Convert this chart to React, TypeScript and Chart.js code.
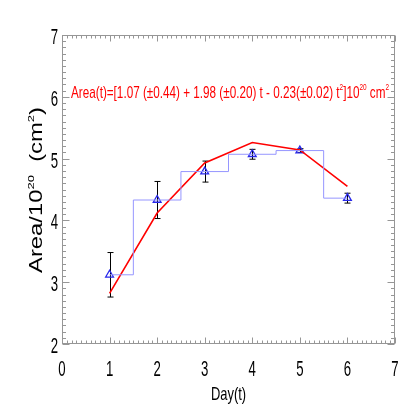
import React, { useEffect, useRef } from "react";
import { Chart, registerables } from "chart.js";
Chart.register(...registerables);

// ---- data ----
const days = [1, 2, 3, 4, 5, 6];
const areaObserved = [3.12, 4.33, 4.79, 5.07, 5.13, 4.36];
const areaError = [0.36, 0.3, 0.17, 0.08, 0.03, 0.08];
const areaFit = [2.82, 4.12, 4.93, 5.26, 5.14, 4.55];
const xTickValues = [0, 1, 2, 3, 4, 5, 6, 7];
const yTickValues = [2, 3, 4, 5, 6, 7];
const xTitle = "Day(t)";

type Part = { t: string; sup?: boolean };
const yTitleParts: Part[] = [
  { t: "Area/10" },
  { t: "20", sup: true },
  { t: "  (cm" },
  { t: "2", sup: true },
  { t: ")" },
];
const fitLabelParts: Part[] = [
  { t: "Area(t)=[1.07 (\u00b10.44) + 1.98 (\u00b10.20) t - 0.23(\u00b10.02) t" },
  { t: "2", sup: true },
  { t: "]10" },
  { t: "20", sup: true },
  { t: " cm" },
  { t: "2", sup: true },
];

const AXIS_GRAY = "#969696";
const FAMILY = '"Liberation Sans", Arial, sans-serif';

function partsWidth(ctx: CanvasRenderingContext2D, parts: Part[], size: number) {
  let w = 0;
  for (const p of parts) {
    ctx.font = `${p.sup ? size * 0.55 : size}px ${FAMILY}`;
    w += ctx.measureText(p.t).width;
  }
  return w;
}

function drawParts(
  ctx: CanvasRenderingContext2D,
  parts: Part[],
  size: number,
  color: string
) {
  let x = 0;
  ctx.fillStyle = color;
  ctx.textBaseline = "alphabetic";
  ctx.textAlign = "left";
  for (const p of parts) {
    const s = p.sup ? size * 0.55 : size;
    ctx.font = `${s}px ${FAMILY}`;
    ctx.fillText(p.t, x, p.sup ? -size * 0.45 : 0);
    x += ctx.measureText(p.t).width;
  }
}

const decorPlugin = {
  id: "decor",
  beforeDatasetsDraw(chart: any) {
    const ctx: CanvasRenderingContext2D = chart.ctx;
    const xs = chart.scales.x;
    const ys = chart.scales.y;
    ctx.save();
    ctx.strokeStyle = "#000";
    ctx.lineWidth = 1;
    days.forEach((d, i) => {
      const px = Math.round(xs.getPixelForValue(d)) + 0.5;
      const top = ys.getPixelForValue(areaObserved[i] + areaError[i]);
      const bot = ys.getPixelForValue(areaObserved[i] - areaError[i]);
      ctx.beginPath();
      ctx.moveTo(px, top);
      ctx.lineTo(px, bot);
      ctx.moveTo(px - 3, top);
      ctx.lineTo(px + 3, top);
      ctx.moveTo(px - 3, bot);
      ctx.lineTo(px + 3, bot);
      ctx.stroke();
    });
    ctx.restore();
  },
  afterDraw(chart: any) {
    const ctx: CanvasRenderingContext2D = chart.ctx;
    const xs = chart.scales.x;
    const ys = chart.scales.y;
    const a = chart.chartArea;
    const L = Math.round(a.left) + 0.5;
    const R = Math.round(a.right) - 0.5;
    const T = Math.round(a.top) + 0.5;
    const B = Math.round(a.bottom) - 0.5;
    ctx.save();
    // frame
    ctx.strokeStyle = AXIS_GRAY;
    ctx.lineWidth = 1;
    ctx.strokeRect(L, T, R - L, B - T);
    // ticks
    ctx.beginPath();
    const yMin = yTickValues[0];
    const yMax = yTickValues[yTickValues.length - 1];
    for (let k = 0; k <= (yMax - yMin) * 10; k++) {
      const v = yMin + k / 10;
      const py = Math.round(ys.getPixelForValue(v)) + 0.5;
      const len = k % 10 === 0 ? 7 : 3.5;
      ctx.moveTo(L, py);
      ctx.lineTo(L + len, py);
      ctx.moveTo(R, py);
      ctx.lineTo(R - len, py);
    }
    const xMin = xTickValues[0];
    const xMax = xTickValues[xTickValues.length - 1];
    for (let k = 0; k <= (xMax - xMin) * 10; k++) {
      const v = xMin + k / 10;
      const px = Math.round(xs.getPixelForValue(v)) + 0.5;
      const len = k % 10 === 0 ? 6 : 3;
      ctx.moveTo(px, B);
      ctx.lineTo(px, B - len);
      ctx.moveTo(px, T);
      ctx.lineTo(px, T + len);
    }
    ctx.stroke();

    // tick labels (condensed)
    ctx.fillStyle = "#000";
    ctx.font = `22px ${FAMILY}`;
    ctx.textBaseline = "alphabetic";
    const sx = 0.6;
    for (const v of yTickValues) {
      const py = ys.getPixelForValue(v);
      ctx.save();
      ctx.translate(58, py + 9);
      ctx.scale(sx, 1);
      ctx.textAlign = "right";
      ctx.fillText(String(v), 0, 0);
      ctx.restore();
    }
    for (const v of xTickValues) {
      const px = xs.getPixelForValue(v);
      ctx.save();
      ctx.translate(px, 376);
      ctx.scale(sx, 1);
      ctx.textAlign = "center";
      ctx.fillText(String(v), 0, 0);
      ctx.restore();
    }
    // x title
    ctx.save();
    ctx.font = `19px ${FAMILY}`;
    ctx.translate((a.left + a.right) / 2, 400);
    ctx.scale(0.68, 1);
    ctx.textAlign = "center";
    ctx.fillText(xTitle, 0, 0);
    ctx.restore();

    // y title (rotated)
    {
      const size = 18;
      const w = partsWidth(ctx, yTitleParts, size);
      const target = 166;
      ctx.save();
      ctx.translate(42, 190);
      ctx.rotate(-Math.PI / 2);
      ctx.scale(target / w, 1);
      ctx.translate(-w / 2, 0);
      drawParts(ctx, yTitleParts, size, "#000");
      ctx.restore();
    }

    // fit formula
    {
      const size = 17;
      const w = partsWidth(ctx, fitLabelParts, size);
      const target = 318;
      ctx.save();
      ctx.translate(71, 98);
      ctx.scale(target / w, 1);
      drawParts(ctx, fitLabelParts, size, "rgb(255,0,0)");
      ctx.restore();
    }
    ctx.restore();
  },
};

export default function App() {
  const ref = useRef<HTMLCanvasElement | null>(null);
  useEffect(() => {
    if (!ref.current) return;
    const pts = (ys: number[]) => days.map((d, i) => ({ x: d, y: ys[i] }));
    const chart = new Chart(ref.current, {
      type: "line",
      data: {
        datasets: [
          {
            label: "steps",
            data: pts(areaObserved),
            stepped: "middle",
            borderColor: "rgb(150,150,255)",
            borderWidth: 1,
            pointRadius: 0,
            fill: false,
          },
          {
            label: "fit",
            data: pts(areaFit),
            borderColor: "rgb(255,0,0)",
            borderWidth: 1.6,
            pointRadius: 0,
            tension: 0,
            fill: false,
          },
          {
            label: "observed",
            data: pts(areaObserved),
            showLine: false,
            pointStyle: "triangle",
            pointRadius: 4.5,
            borderColor: "rgb(40,40,235)",
            backgroundColor: "rgba(0,0,0,0)",
            pointBorderWidth: 1.3,
          },
        ],
      } as any,
      options: {
        responsive: false,
        animation: false,
        layout: { padding: { left: 62, right: 19, top: 35, bottom: 70 } },
        plugins: { legend: { display: false }, tooltip: { enabled: false } },
        scales: {
          x: { type: "linear", min: 0, max: 7, display: false },
          y: { type: "linear", min: 2, max: 7, display: false },
        },
      } as any,
      plugins: [decorPlugin],
    });
    return () => chart.destroy();
  }, []);
  return (
    <div style={{ position: "absolute", left: 0, top: 0, width: 414, height: 414, background: "#fff" }}>
      <canvas ref={ref} width={414} height={414} />
    </div>
  );
}
